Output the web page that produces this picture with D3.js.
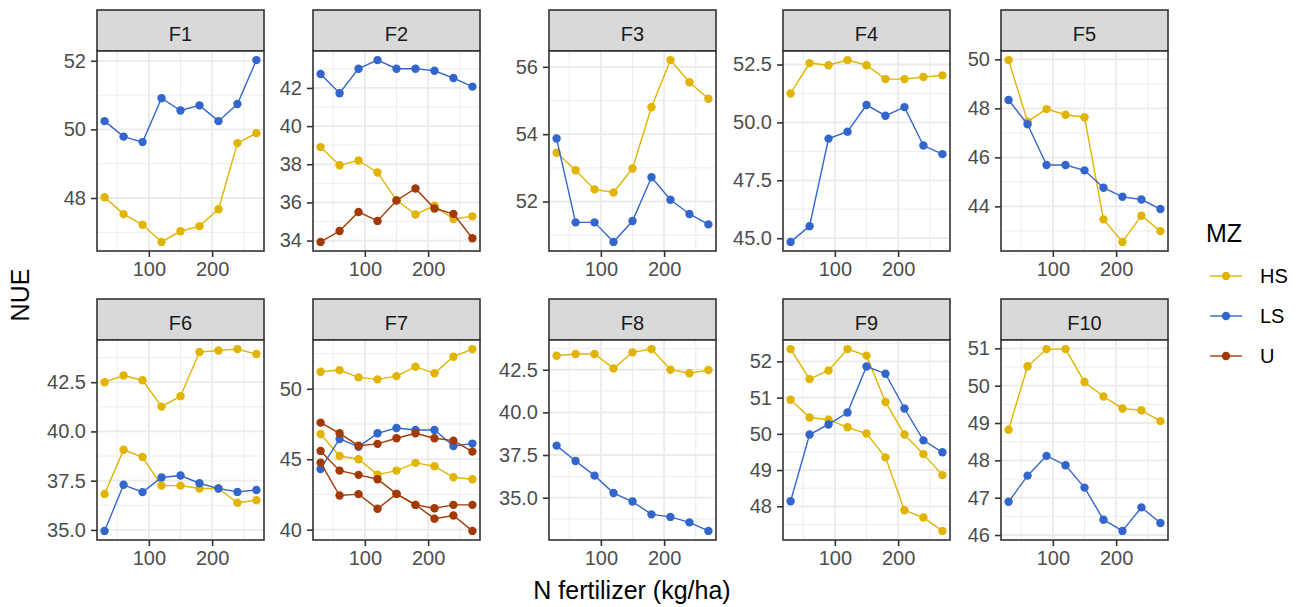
<!DOCTYPE html>
<html>
<head>
<meta charset="utf-8">
<script src="https://cdn.jsdelivr.net/npm/d3@7"></script>
<style>
  body { margin: 0; background: #fff; }
  svg { font-family: "Liberation Sans", Arial, sans-serif; }
</style>
</head>
<body>
<div id="chart"></div>
<script>
// x values (N fertilizer, kg/ha)
const nRates = [30, 60, 90, 120, 150, 180, 210, 240, 270];
const facets = ["F1", "F2", "F3", "F4", "F5", "F6", "F7", "F8", "F9", "F10"];
const mzLevels = ["HS", "LS", "U"];
const mzColors = ["#E1B400", "#3366CC", "#A33A05"];

// NUE values
const f1HS = [48.02, 47.53, 47.22, 46.72, 47.03, 47.18, 47.67, 49.60, 49.89];
const f1LS = [50.24, 49.79, 49.63, 50.91, 50.55, 50.70, 50.24, 50.74, 52.02];
const f2HS = [38.90, 37.95, 38.20, 37.57, 36.12, 35.37, 35.83, 35.13, 35.27];
const f2LS = [42.73, 41.72, 43.01, 43.46, 43.01, 43.01, 42.90, 42.52, 42.07];
const f2U = [33.93, 34.50, 35.50, 35.03, 36.10, 36.73, 35.68, 35.40, 34.12];
const f3HS = [53.45, 52.93, 52.36, 52.27, 52.98, 54.80, 56.20, 55.54, 55.05];
const f3LS = [53.87, 51.38, 51.38, 50.80, 51.42, 52.72, 52.05, 51.63, 51.32];
const f4HS = [51.25, 52.56, 52.47, 52.69, 52.47, 51.87, 51.87, 51.96, 52.03];
const f4LS = [44.84, 45.52, 49.30, 49.60, 50.75, 50.29, 50.66, 49.00, 48.63];
const f5HS = [49.97, 47.46, 47.97, 47.74, 47.64, 43.47, 42.55, 43.62, 42.99];
const f5LS = [48.34, 47.35, 45.69, 45.69, 45.47, 44.76, 44.39, 44.28, 43.89];
const f6HSa = [42.50, 42.84, 42.60, 41.26, 41.79, 44.03, 44.11, 44.18, 43.93];
const f6HSb = [36.82, 39.07, 38.70, 37.25, 37.25, 37.10, 37.10, 36.38, 36.51];
const f6LS = [34.95, 37.29, 36.92, 37.66, 37.76, 37.37, 37.10, 36.93, 37.03];
const f7HSa = [51.21, 51.33, 50.81, 50.67, 50.90, 51.57, 51.10, 52.28, 52.82];
const f7HSb = [46.79, 45.23, 45.00, 43.91, 44.19, 44.74, 44.50, 43.72, 43.58];
const f7LS = [44.31, 46.44, 45.89, 46.84, 47.22, 47.08, 47.08, 45.94, 46.11];
const f7Ua = [47.60, 46.84, 45.96, 46.09, 46.49, 46.84, 46.49, 46.32, 45.54];
const f7Ub = [45.59, 44.19, 43.89, 43.58, 42.54, 41.76, 41.52, 41.76, 41.76];
const f7Uc = [44.76, 42.42, 42.52, 41.48, 42.54, 41.76, 40.78, 41.00, 39.91];
const f8HS = [43.32, 43.42, 43.42, 42.58, 43.52, 43.71, 42.50, 42.29, 42.48];
const f8LS = [38.05, 37.15, 36.29, 35.27, 34.77, 34.02, 33.87, 33.55, 33.05];
const f9HSa = [52.34, 51.51, 51.75, 52.34, 52.16, 50.88, 49.98, 49.44, 48.86];
const f9HSb = [50.94, 50.45, 50.39, 50.18, 50.01, 49.35, 47.89, 47.69, 47.32];
const f9LS = [48.14, 49.98, 50.26, 50.59, 51.86, 51.66, 50.70, 49.82, 49.49];
const f10HS = [48.82, 50.52, 50.98, 50.98, 50.10, 49.71, 49.39, 49.34, 49.05];
const f10LS = [46.89, 47.59, 48.12, 47.87, 47.27, 46.41, 46.11, 46.74, 46.32];

const series = [
  { facet: "F1", mz: "HS", values: f1HS }, { facet: "F1", mz: "LS", values: f1LS },
  { facet: "F2", mz: "HS", values: f2HS }, { facet: "F2", mz: "LS", values: f2LS },
  { facet: "F2", mz: "U", values: f2U },
  { facet: "F3", mz: "HS", values: f3HS }, { facet: "F3", mz: "LS", values: f3LS },
  { facet: "F4", mz: "HS", values: f4HS }, { facet: "F4", mz: "LS", values: f4LS },
  { facet: "F5", mz: "HS", values: f5HS }, { facet: "F5", mz: "LS", values: f5LS },
  { facet: "F6", mz: "HS", values: f6HSa }, { facet: "F6", mz: "HS", values: f6HSb },
  { facet: "F6", mz: "LS", values: f6LS },
  { facet: "F7", mz: "HS", values: f7HSa }, { facet: "F7", mz: "HS", values: f7HSb },
  { facet: "F7", mz: "LS", values: f7LS },
  { facet: "F7", mz: "U", values: f7Ua }, { facet: "F7", mz: "U", values: f7Ub },
  { facet: "F7", mz: "U", values: f7Uc },
  { facet: "F8", mz: "HS", values: f8HS }, { facet: "F8", mz: "LS", values: f8LS },
  { facet: "F9", mz: "HS", values: f9HSa }, { facet: "F9", mz: "HS", values: f9HSb },
  { facet: "F9", mz: "LS", values: f9LS },
  { facet: "F10", mz: "HS", values: f10HS }, { facet: "F10", mz: "LS", values: f10LS }
];

// axis ticks
const xTicks = [100, 200];
const xMinor = [50, 150, 250];
const yTicks = [
  [48, 50, 52],
  [34, 36, 38, 40, 42],
  [52, 54, 56],
  [45, 47.5, 50, 52.5],
  [44, 46, 48, 50],
  [35, 37.5, 40, 42.5],
  [40, 45, 50],
  [35, 37.5, 40, 42.5],
  [48, 49, 50, 51, 52],
  [46, 47, 48, 49, 50, 51]
];

// layout
const width = 1299, height = 607;
const colLeft = [97, 313, 549, 783, 1001];
const rowTop = [10, 299];
const panelW = 167, panelH = 200, stripH = 41;
const color = d3.scaleOrdinal().domain(mzLevels).range(mzColors);

const svg = d3.select("#chart").append("svg")
  .attr("width", width)
  .attr("height", height);

const expand = (ext) => {
  const pad = (ext[1] - ext[0]) * 0.05;
  return [ext[0] - pad, ext[1] + pad];
};

const xExt = expand(d3.extent(nRates));

facets.forEach((f, i) => {
  const col = i % 5, row = Math.floor(i / 5);
  const fs = series.filter((s) => s.facet === f);
  const x = d3.scaleLinear().domain(xExt).range([0, panelW]);
  const yDom = expand(d3.extent(fs.flatMap((s) => s.values)));
  const y = d3.scaleLinear().domain(yDom).range([panelH, 0]);

  const ticks = yTicks[i];
  const step = ticks[1] - ticks[0];
  const yMinor = d3.range(ticks[0] - step / 2, ticks[ticks.length - 1] + step, step)
    .filter((v) => v >= yDom[0] && v <= yDom[1]);
  const fmt = ticks.every(Number.isInteger) ? d3.format("d") : d3.format(".1f");

  // strip
  svg.append("rect")
    .attr("x", colLeft[col]).attr("y", rowTop[row])
    .attr("width", panelW).attr("height", stripH)
    .attr("fill", "#D9D9D9").attr("stroke", "#333333").attr("stroke-width", 1.6);
  svg.append("text")
    .attr("x", colLeft[col] + panelW / 2).attr("y", rowTop[row] + 30.5)
    .attr("text-anchor", "middle")
    .attr("font-size", 20).attr("fill", "#1A1A1A")
    .text(f);

  const g = svg.append("g")
    .attr("transform", `translate(${colLeft[col]},${rowTop[row] + stripH})`);

  g.append("rect").attr("width", panelW).attr("height", panelH).attr("fill", "#fff");

  // grid
  g.selectAll(".ymin").data(yMinor).join("line")
    .attr("x1", 0).attr("x2", panelW).attr("y1", y).attr("y2", y)
    .attr("stroke", "#EBEBEB").attr("stroke-width", 0.9);
  g.selectAll(".xmin").data(xMinor).join("line")
    .attr("y1", 0).attr("y2", panelH).attr("x1", x).attr("x2", x)
    .attr("stroke", "#EBEBEB").attr("stroke-width", 0.9);
  g.selectAll(".ymaj").data(ticks).join("line")
    .attr("x1", 0).attr("x2", panelW).attr("y1", y).attr("y2", y)
    .attr("stroke", "#EBEBEB").attr("stroke-width", 1.8);
  g.selectAll(".xmaj").data(xTicks).join("line")
    .attr("y1", 0).attr("y2", panelH).attr("x1", x).attr("x2", x)
    .attr("stroke", "#EBEBEB").attr("stroke-width", 1.8);

  // lines and points
  const line = d3.line()
    .x((d, j) => x(nRates[j]))
    .y((d) => y(d));

  fs.forEach((s) => {
    g.append("path")
      .datum(s.values)
      .attr("fill", "none")
      .attr("stroke", color(s.mz))
      .attr("stroke-width", 1.4)
      .attr("d", line);
    g.selectAll(null).data(s.values).join("circle")
      .attr("cx", (d, j) => x(nRates[j]))
      .attr("cy", (d) => y(d))
      .attr("r", 4.2)
      .attr("fill", color(s.mz));
  });

  g.append("rect").attr("width", panelW).attr("height", panelH)
    .attr("fill", "none").attr("stroke", "#333333").attr("stroke-width", 1.6);

  // axes
  const yAxis = g.append("g")
    .call(d3.axisLeft(y).tickValues(ticks).tickFormat(fmt).tickSize(6).tickPadding(5));
  const xAxis = g.append("g")
    .attr("transform", `translate(0,${panelH})`)
    .call(d3.axisBottom(x).tickValues(xTicks).tickSize(6).tickPadding(5));
  [yAxis, xAxis].forEach((a) => {
    a.select(".domain").remove();
    a.selectAll(".tick line").attr("stroke", "#333333").attr("stroke-width", 1.6);
    a.selectAll(".tick text")
      .attr("font-size", 20)
      .attr("font-family", "Liberation Sans, Arial, sans-serif")
      .attr("fill", "#4D4D4D");
  });
});

// axis titles
svg.append("text")
  .attr("x", 632).attr("y", 599)
  .attr("text-anchor", "middle")
  .attr("font-size", 25)
  .text("N fertilizer (kg/ha)");

svg.append("text")
  .attr("transform", "translate(29,295) rotate(-90)")
  .attr("text-anchor", "middle")
  .attr("font-size", 25)
  .text("NUE");

// legend
const legend = svg.append("g").attr("transform", "translate(1197,0)");
legend.append("text")
  .attr("x", 9).attr("y", 242)
  .attr("font-size", 25)
  .text("MZ");

mzLevels.forEach((m, k) => {
  const ly = 276 + k * 40;
  legend.append("line")
    .attr("x1", 13).attr("x2", 45).attr("y1", ly).attr("y2", ly)
    .attr("stroke", color(m)).attr("stroke-width", 1.4);
  legend.append("circle")
    .attr("cx", 29).attr("cy", ly).attr("r", 4.2)
    .attr("fill", color(m));
  legend.append("text")
    .attr("x", 63).attr("y", ly)
    .attr("dy", "0.35em")
    .attr("font-size", 20)
    .text(m);
});
</script>
</body>
</html>
